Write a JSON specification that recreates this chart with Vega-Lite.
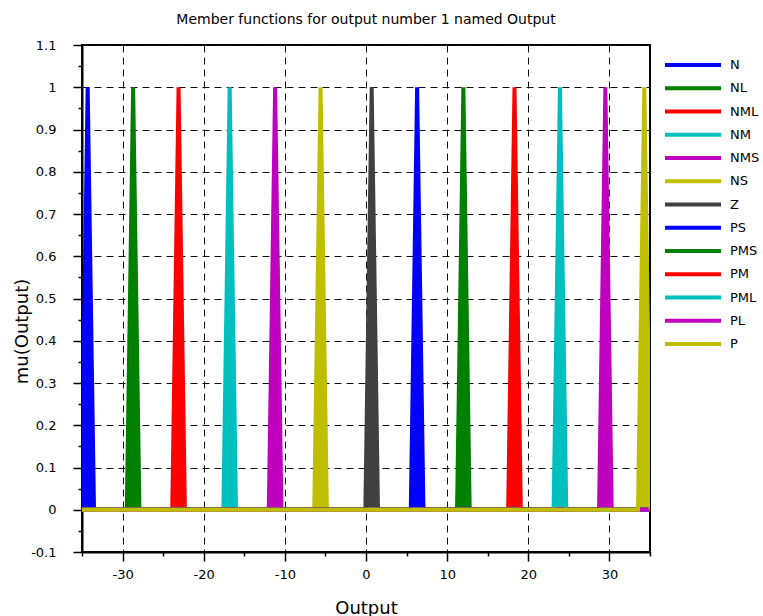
{
  "$schema": "https://vega.github.io/schema/vega-lite/v6.json",
  "autosize": "none",
  "padding": {"left": 82, "top": 45, "right": 113, "bottom": 64},
  "width": 568,
  "height": 507,
  "background": "white",
  "title": {"text": "Member functions for output number 1 named Output", "font": "DejaVu Sans", "fontSize": 14, "fontWeight": "normal", "color": "black", "anchor": "middle", "offset": 12},
  "config": {"view": {"stroke": "black", "strokeWidth": 2}, "font": "DejaVu Sans"},
  "data": {"values": [
    {"mf": "N", "x": -35.08, "mu": 0}, {"mf": "N", "x": -34.3, "mu": 1}, {"mf": "N", "x": -33.52, "mu": 0}, {"mf": "N", "x": 35, "mu": 0},
    {"mf": "NL", "x": -35, "mu": 0}, {"mf": "NL", "x": -29.48, "mu": 0}, {"mf": "NL", "x": -28.7, "mu": 1}, {"mf": "NL", "x": -27.92, "mu": 0}, {"mf": "NL", "x": 35, "mu": 0},
    {"mf": "NML", "x": -35, "mu": 0}, {"mf": "NML", "x": -23.88, "mu": 0}, {"mf": "NML", "x": -23.1, "mu": 1}, {"mf": "NML", "x": -22.32, "mu": 0}, {"mf": "NML", "x": 35, "mu": 0},
    {"mf": "NM", "x": -35, "mu": 0}, {"mf": "NM", "x": -17.58, "mu": 0}, {"mf": "NM", "x": -16.8, "mu": 1}, {"mf": "NM", "x": -16.02, "mu": 0}, {"mf": "NM", "x": 35, "mu": 0},
    {"mf": "NMS", "x": -35, "mu": 0}, {"mf": "NMS", "x": -11.98, "mu": 0}, {"mf": "NMS", "x": -11.2, "mu": 1}, {"mf": "NMS", "x": -10.42, "mu": 0}, {"mf": "NMS", "x": 35, "mu": 0},
    {"mf": "NS", "x": -35, "mu": 0}, {"mf": "NS", "x": -6.38, "mu": 0}, {"mf": "NS", "x": -5.6, "mu": 1}, {"mf": "NS", "x": -4.82, "mu": 0}, {"mf": "NS", "x": 35, "mu": 0},
    {"mf": "Z", "x": -35, "mu": 0}, {"mf": "Z", "x": -0.08, "mu": 0}, {"mf": "Z", "x": 0.7, "mu": 1}, {"mf": "Z", "x": 1.48, "mu": 0}, {"mf": "Z", "x": 35, "mu": 0},
    {"mf": "PS", "x": -35, "mu": 0}, {"mf": "PS", "x": 5.52, "mu": 0}, {"mf": "PS", "x": 6.3, "mu": 1}, {"mf": "PS", "x": 7.08, "mu": 0}, {"mf": "PS", "x": 35, "mu": 0},
    {"mf": "PMS", "x": -35, "mu": 0}, {"mf": "PMS", "x": 11.22, "mu": 0}, {"mf": "PMS", "x": 12, "mu": 1}, {"mf": "PMS", "x": 12.78, "mu": 0}, {"mf": "PMS", "x": 35, "mu": 0},
    {"mf": "PM", "x": -35, "mu": 0}, {"mf": "PM", "x": 17.52, "mu": 0}, {"mf": "PM", "x": 18.3, "mu": 1}, {"mf": "PM", "x": 19.08, "mu": 0}, {"mf": "PM", "x": 35, "mu": 0},
    {"mf": "PML", "x": -35, "mu": 0}, {"mf": "PML", "x": 23.12, "mu": 0}, {"mf": "PML", "x": 23.9, "mu": 1}, {"mf": "PML", "x": 24.68, "mu": 0}, {"mf": "PML", "x": 35, "mu": 0},
    {"mf": "PL", "x": -35, "mu": 0}, {"mf": "PL", "x": 28.72, "mu": 0}, {"mf": "PL", "x": 29.5, "mu": 1}, {"mf": "PL", "x": 30.28, "mu": 0}, {"mf": "PL", "x": 35, "mu": 0},
    {"mf": "P", "x": -35, "mu": 0}, {"mf": "P", "x": 33.52, "mu": 0}, {"mf": "P", "x": 34.3, "mu": 1}, {"mf": "P", "x": 35.08, "mu": 0}
  ]},
  "encoding": {
    "x": {"field": "x", "type": "quantitative",
      "scale": {"domain": [-35, 35], "nice": false, "zero": false},
      "axis": {
        "values": [-35, -30, -25, -20, -15, -10, -5, 0, 5, 10, 15, 20, 25, 30, 35],
        "labelExpr": "datum.value % 10 === 0 ? '' + datum.value : ''",
        "tickSize": {"condition": {"test": "datum.value % 10 === 0", "value": 9}, "value": 4},
        "gridOpacity": {"condition": {"test": "datum.value % 10 === 0", "value": 1}, "value": 0},
        "grid": true, "gridDash": [7, 5], "gridColor": "#111111", "gridWidth": 1,
        "domainColor": "black", "domainWidth": 2, "tickColor": "black", "tickWidth": 1.5,
        "labelFont": "DejaVu Sans", "labelFontSize": 13, "labelColor": "black", "labelPadding": 7,
        "title": "Output", "titleFont": "DejaVu Sans", "titleFontSize": 18, "titleFontWeight": "normal", "titleColor": "black", "titlePadding": 18
      }},
    "y": {"field": "mu", "type": "quantitative",
      "scale": {"domain": [-0.1, 1.1], "nice": false, "zero": false},
      "axis": {
        "values": [-0.1, -0.05, 0, 0.05, 0.1, 0.15, 0.2, 0.25, 0.3, 0.35, 0.4, 0.45, 0.5, 0.55, 0.6, 0.65, 0.7, 0.75, 0.8, 0.85, 0.9, 0.95, 1, 1.05, 1.1],
        "labelExpr": "abs(datum.value*10 - round(datum.value*10)) < 0.001 ? '' + datum.value : ''",
        "tickSize": {"condition": {"test": "abs(datum.value*10 - round(datum.value*10)) < 0.001", "value": 9}, "value": 4},
        "gridOpacity": {"condition": {"test": "abs(datum.value*10 - round(datum.value*10)) < 0.001", "value": 1}, "value": 0},
        "grid": true, "gridDash": [7, 5], "gridColor": "#111111", "gridWidth": 1,
        "domainColor": "black", "domainWidth": 2, "tickColor": "black", "tickWidth": 1.5,
        "labelFont": "DejaVu Sans", "labelFontSize": 13, "labelColor": "black", "labelPadding": 17,
        "title": "mu(Output)", "titleFont": "DejaVu Sans", "titleFontSize": 18, "titleFontWeight": "normal", "titleColor": "black", "titlePadding": -1, "titleY": 286
      }}
  },
  "layer": [
    {"mark": {"type": "area", "clip": true, "opacity": 1},
     "encoding": {
       "y2": {"datum": 0},
       "fill": {"field": "mf", "type": "nominal",
         "scale": {"domain": ["N", "NL", "NML", "NM", "NMS", "NS", "Z", "PS", "PMS", "PM", "PML", "PL", "P"],
                   "range": ["#0000ff", "#008000", "#ff0000", "#00bfbf", "#bf00bf", "#bfbf00", "#404040", "#0000ff", "#008000", "#ff0000", "#00bfbf", "#bf00bf", "#bfbf00"]},
         "legend": {
           "orient": "none", "legendX": 601, "legendY": 10, "title": null, "padding": 0,
           "symbolType": "M-3.5,0H3.5", "symbolSize": 256, "symbolStrokeWidth": 4, "symbolOffset": 0,
           "labelFont": "DejaVu Sans", "labelFontSize": 13, "labelColor": "black", "labelOffset": 27,
           "rowPadding": 5.25
         }}
     }},
    {"mark": {"type": "line", "clip": true, "strokeWidth": 4},
     "encoding": {
       "stroke": {"field": "mf", "type": "nominal",
         "scale": {"domain": ["N", "NL", "NML", "NM", "NMS", "NS", "Z", "PS", "PMS", "PM", "PML", "PL", "P"],
                   "range": ["#0000ff", "#008000", "#ff0000", "#00bfbf", "#bf00bf", "#bfbf00", "#404040", "#0000ff", "#008000", "#ff0000", "#00bfbf", "#bf00bf", "#bfbf00"]},
         "legend": {
           "orient": "none", "legendX": 601, "legendY": 10, "title": null, "padding": 0,
           "symbolType": "M-3.5,0H3.5", "symbolSize": 256, "symbolStrokeWidth": 4, "symbolOffset": 0,
           "labelFont": "DejaVu Sans", "labelFontSize": 13, "labelColor": "black", "labelOffset": 27,
           "rowPadding": 5.25
         }}
     }}
  ]
}
